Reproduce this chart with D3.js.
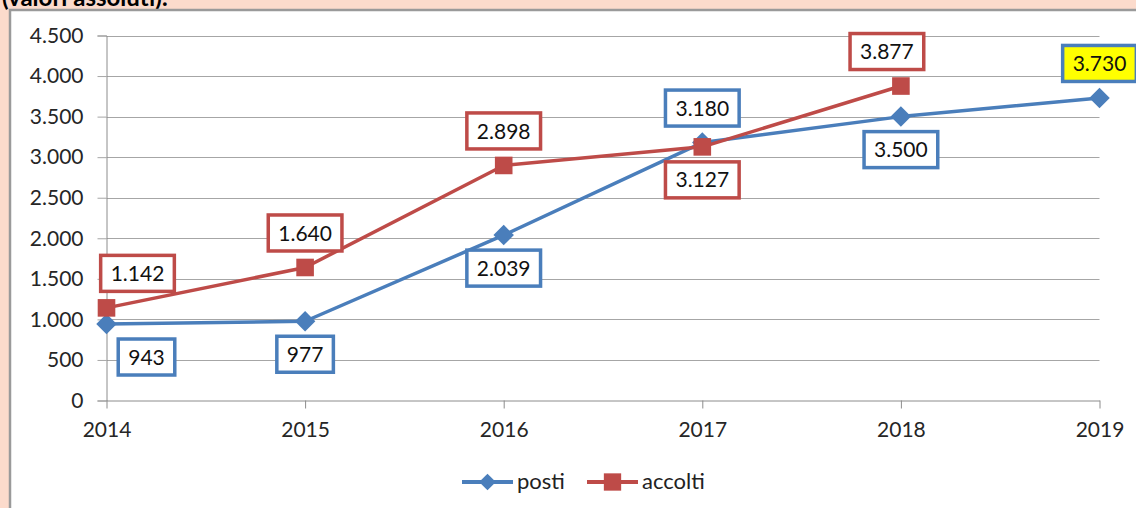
<!DOCTYPE html>
<html>
<head>
<meta charset="utf-8">
<script src="https://cdn.jsdelivr.net/npm/d3@7"></script>
<style>
  body { margin: 0; background: #fcdbcc; }
  svg { display: block; }
  text { font-family: Lato, "Open Sans", "Liberation Sans", sans-serif; fill: #222222; }
</style>
</head>
<body>
<div id="chart"></div>
<script>
// Data.
const years = ['2014', '2015', '2016', '2017', '2018', '2019'];
const posti = [943, 977, 2039, 3180, 3500, 3730];
const accolti = [1142, 1640, 2898, 3127, 3877, null];
const yTickValues = [0, 500, 1000, 1500, 2000, 2500, 3000, 3500, 4000, 4500];

// Where each data label sits (above / below the point, small horizontal nudge).
const postiLabelSide = ['below', 'below', 'below', 'above', 'below', 'above'];
const postiLabelNudge = [40, 0, 0, 0, 0, 0];
const accoltiLabelSide = ['above', 'above', 'above', 'below', 'above', 'above'];
const accoltiLabelNudge = [31, 0, 0, 0, -14, 0];

const dims = {
  width: 1136,
  height: 508,
  left: 106.5,
  right: 1099.5,
  top: 35.5,
  bottom: 400.5,
};

const colors = {
  posti: '#4a7ebb',
  accolti: '#be4b48',
  postiBox: '#4a7ebb',
  accoltiBox: '#be4b48',
  grid: '#a6a6a6',
  axis: '#8c8c8c',
};

const it = d3.formatLocale({ decimal: ',', thousands: '.', grouping: [3], currency: ['€', ''] });
const fmt = it.format(',d');

const svg = d3.select('#chart')
      .append('svg')
      .attr('width', dims.width)
      .attr('height', dims.height);

// Cut-off heading above the chart frame.
svg.append('text')
  .attr('x', 2)
  .attr('y', 6)
  .attr('font-size', 24)
  .attr('font-weight', 'bold')
  .style('fill', '#000')
  .text('(valori assoluti):');

// Chart frame.
svg.append('rect')
  .attr('x', 10)
  .attr('y', 10)
  .attr('width', 1140)
  .attr('height', 520)
  .attr('fill', '#ffffff')
  .attr('stroke', '#9a9a9a')
  .attr('stroke-width', 2.5);

const x = d3.scalePoint().domain(years).range([dims.left, dims.right]);
const y = d3.scaleLinear().domain([0, 4500]).range([dims.bottom, dims.top]);

// Gridlines.
svg.append('g')
  .selectAll('line')
  .data(yTickValues.filter(d => d > 0))
  .join('line')
  .attr('x1', dims.left)
  .attr('x2', dims.right)
  .attr('y1', d => Math.round(y(d)) + 0.5)
  .attr('y2', d => Math.round(y(d)) + 0.5)
  .attr('stroke', colors.grid)
  .attr('stroke-width', 1);

// Y axis.
const yAxis = svg.append('g')
      .attr('transform', `translate(${dims.left},0)`)
      .call(d3.axisLeft(y).tickValues(yTickValues).tickFormat(fmt).tickSize(9).tickPadding(14));
yAxis.select('.domain').attr('stroke', colors.axis);
yAxis.selectAll('.tick line').attr('stroke', colors.grid);
yAxis.selectAll('.tick text').attr('font-size', 21).attr('font-family', null).style('fill', '#262626');

// X axis.
const xAxis = svg.append('g')
      .attr('transform', `translate(0,${dims.bottom})`)
      .call(d3.axisBottom(x).tickSize(8).tickPadding(14).tickSizeOuter(0));
xAxis.select('.domain').attr('stroke', colors.axis);
xAxis.selectAll('.tick line').attr('stroke', colors.axis);
xAxis.selectAll('.tick text').attr('font-size', 21).attr('font-family', null).style('fill', '#262626');

// Series.
const series = [
  { name: 'posti', values: posti, color: colors.posti, box: colors.postiBox, marker: 'diamond',
    side: postiLabelSide, nudge: postiLabelNudge },
  { name: 'accolti', values: accolti, color: colors.accolti, box: colors.accoltiBox, marker: 'square',
    side: accoltiLabelSide, nudge: accoltiLabelNudge },
];

const line = d3.line()
      .defined(d => d.value != null)
      .x(d => x(d.year))
      .y(d => y(d.value));

const diamond = d3.symbol(d3.symbolSquare, 210);
const square = d3.symbol(d3.symbolSquare, 310);

series.forEach((s) => {
  const pts = years.map((yr, i) => ({ year: yr, value: s.values[i], i: i }));
  const present = pts.filter(d => d.value != null);

  svg.append('path')
    .datum(pts)
    .attr('fill', 'none')
    .attr('stroke', s.color)
    .attr('stroke-width', 3.5)
    .attr('stroke-linejoin', 'round')
    .attr('d', line);

  svg.append('g')
    .selectAll('path')
    .data(present)
    .join('path')
    .attr('d', s.marker === 'diamond' ? diamond : square)
    .attr('fill', s.color)
    .attr('transform', d => `translate(${x(d.year)},${y(d.value)})` + (s.marker === 'diamond' ? ' rotate(45)' : ''));
});

// Data labels in boxes (drawn after lines so they sit on top).
series.forEach((s) => {
  const pts = years.map((yr, i) => ({ year: yr, value: s.values[i], i: i })).filter(d => d.value != null);
  const lab = svg.append('g')
        .selectAll('g')
        .data(pts)
        .join('g')
        .attr('transform', (d) => {
          const cx = x(d.year) + s.nudge[d.i];
          const cy = y(d.value) + (s.side[d.i] === 'above' ? -34.5 : 33);
          return `translate(${cx},${cy})`;
        });

  const rects = lab.append('rect');
  const texts = lab.append('text')
        .attr('text-anchor', 'middle')
        .attr('dy', '0.36em')
        .attr('font-size', 21)
        .style('fill', '#111')
        .text(d => fmt(d.value));

  texts.each(function (d) {
    d.boxW = this.getComputedTextLength() + 20;
  });

  rects
    .attr('x', d => -d.boxW / 2)
    .attr('y', -18)
    .attr('width', d => d.boxW)
    .attr('height', 36)
    .attr('fill', d => (s.name === 'posti' && d.year === '2019') ? '#ffff00' : '#ffffff')
    .attr('stroke', s.box)
    .attr('stroke-width', 3.5);
});

// Legend.
const legend = svg.append('g').attr('transform', 'translate(0,482)');
const legendItems = [
  { name: 'posti', color: colors.posti, x1: 462, marker: 'diamond' },
  { name: 'accolti', color: colors.accolti, x1: 587, marker: 'square' },
];
legendItems.forEach((l) => {
  legend.append('line')
    .attr('x1', l.x1)
    .attr('x2', l.x1 + 51)
    .attr('stroke', l.color)
    .attr('stroke-width', 4);
  legend.append('path')
    .attr('d', d3.symbol(d3.symbolSquare, l.marker === 'diamond' ? 140 : 300)())
    .attr('fill', l.color)
    .attr('transform', `translate(${l.x1 + 25.5},0)` + (l.marker === 'diamond' ? ' rotate(45)' : ''));
  legend.append('text')
    .attr('x', l.x1 + 55)
    .attr('dy', '0.34em')
    .attr('font-size', 22)
    .text(l.name);
});
</script>
</body>
</html>
